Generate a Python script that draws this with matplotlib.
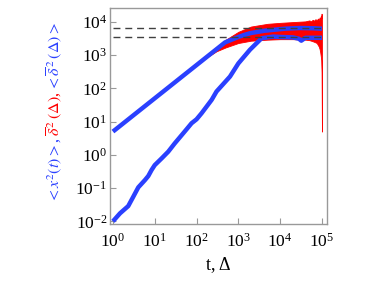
import numpy as np
import matplotlib
matplotlib.use("Agg")
import matplotlib.pyplot as plt

plt.rcParams['font.family'] = ['Liberation Serif', 'DejaVu Serif']
plt.rcParams['mathtext.fontset'] = 'stix'

# ensemble MSD <x^2(t)>
t_ens = [1, 3, 10, 30, 100, 160, 200, 480, 1000, 1440, 2000, 4300, 10000, 13000, 30000, 60000, 100000]
msd_ens = [5, 15, 50, 150, 500, 800, 1000, 2400, 3500, 4100, 4600, 5400, 6000, 6200, 6500, 6400, 6200]

# ensemble-averaged time-averaged MSD <delta^2(Delta)>
t_ta = [1, 1.47, 2.32, 3.06, 4.04, 5.83, 7.0, 8.4, 10, 14.6, 21, 30, 44, 58, 76, 100, 132,
        230, 300, 630, 1000, 1900, 3600, 6800, 10000, 20000, 28000, 32000, 40000, 100000]
msd_ta = [0.01, 0.0173, 0.0287, 0.0547, 0.105, 0.174, 0.23, 0.35, 0.49, 0.78, 1.24, 2.2, 3.9,
          5.9, 8.9, 11.7, 17.8, 45, 80, 225, 560, 1450, 3200, 3600, 3500, 3400, 3100, 2700, 3300, 3300]

# spread of individual time-averaged MSDs (envelope)
t_ind = [100, 150, 300, 500, 1000, 2000, 5000, 10000, 20000, 40000, 50000, 55000, 60000,
         65000, 70000, 75000, 80000, 84000, 88000, 91000, 94000, 96000, 98000, 100000]
ind_hi = [500, 800, 1700, 2900, 5000, 7200, 8700, 9300, 9800, 10300, 11000, 10300, 11500,
          10800, 12000, 11000, 12500, 11200, 13500, 12000, 15000, 12500, 17500, 11000]
ind_lo = [500, 750, 1300, 1700, 2300, 2700, 2900, 3000, 3000, 2900, 2800, 2700, 2600,
          2500, 2400, 2300, 2000, 1800, 1500, 1200, 900, 700, 300, 5]

# plateau levels
plateaus = [6700, 3400]

fig = plt.figure(figsize=(3.71, 2.86), dpi=100)
ax = fig.add_axes([110/371, 1-224/286, 217/371, 216/286])

blue = '#2a40ff'
ax.fill_between(t_ind, ind_lo, ind_hi, color='red', lw=0.6, edgecolor='red', zorder=2)
ax.plot(t_ens, msd_ens, color=blue, lw=3.2, zorder=3, solid_capstyle='butt')
ax.plot(t_ta, msd_ta, color=blue, lw=3.2, zorder=3, solid_capstyle='butt')
for p in plateaus:
    ax.plot([1, 1e5], [p, p], color='#404040', lw=1.0, dashes=(5, 3.5), zorder=4)

ax.set_xscale('log')
ax.set_yscale('log')
ax.set_xlim(0.85, 1.32e5)
ax.set_ylim(0.0083, 2.6e4)
ax.set_xticks([1, 10, 100, 1e3, 1e4, 1e5])
ax.set_yticks([1e-2, 1e-1, 1, 10, 100, 1e3, 1e4])
ax.minorticks_off()
for s in ax.spines.values():
    s.set_color('#999999')
    s.set_linewidth(1.0)
ax.tick_params(direction='in', length=4, color='#999999', labelsize=12.5, width=0.8)
ax.tick_params(axis='x', pad=6)
ax.tick_params(axis='y', pad=2)

ax.set_xlabel('t, Δ', fontsize=13, labelpad=4)

# multi-coloured y label, stacked bottom to top
fs = 11.5
parts = [(r'$<x^2(t)>$, ', blue), (r'$\overline{\delta}^{\,2}\,(\Delta)$, ', 'red'),
         (r'$<\overline{\delta}^{\,2}\,(\Delta)>$', blue)]
fig.canvas.draw()
renderer = fig.canvas.get_renderer()
y_px = 286 - 203  # bottom of label in display pixels (from bottom)
x_fig = 55 / 371
for txt, col in parts:
    t = fig.text(x_fig, y_px / 286, txt, rotation=90, color=col, fontsize=fs,
                 ha='center', va='bottom', rotation_mode='default')
    bb = t.get_window_extent(renderer)
    y_px += bb.height

fig.savefig('out.png', dpi=100)
